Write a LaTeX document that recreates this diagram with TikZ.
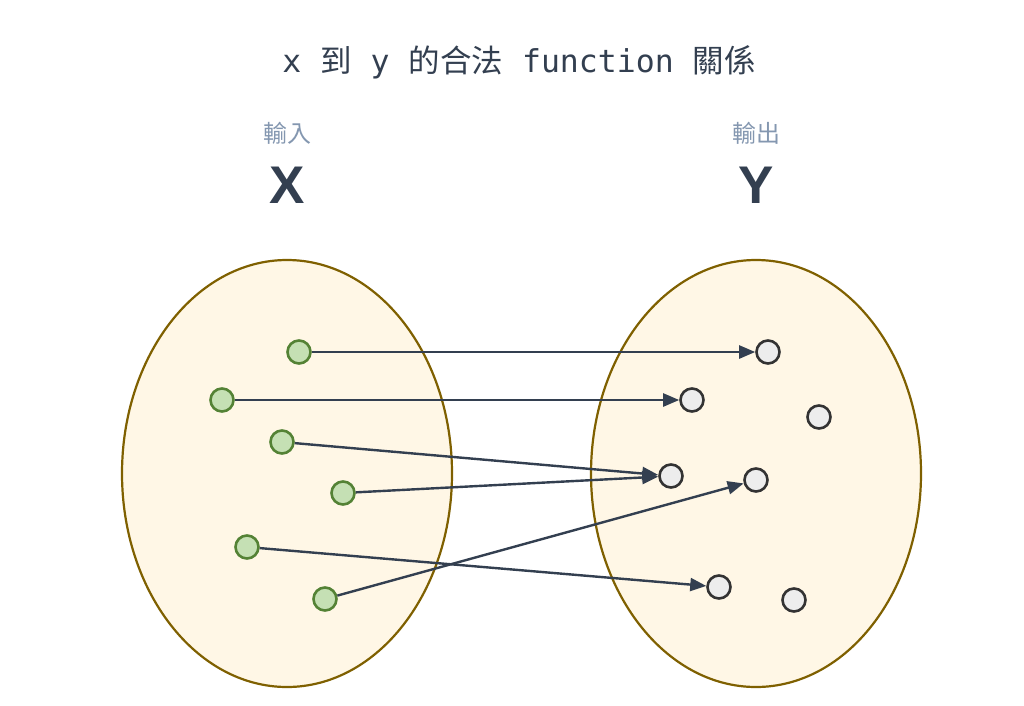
\documentclass[tikz,border=0pt]{standalone}
\usepackage{fontspec}
\setmainfont{Noto Sans}
\newfontfamily\cjk{Noto Sans CJK TC}
\newfontfamily\mono{DejaVu Sans Mono}
\newfontfamily\heavy{Liberation Sans}
\usepackage{tikz}
\usetikzlibrary{shapes.geometric,arrows.meta}
\definecolor{set-fill}{HTML}{FFF7E6}
\definecolor{set-line}{HTML}{7F6000}
\definecolor{in-fill}{HTML}{C5E0B4}
\definecolor{in-line}{HTML}{548235}
\definecolor{out-fill}{HTML}{EDEDED}
\definecolor{out-line}{HTML}{333333}
\definecolor{slate}{HTML}{333F50}
\definecolor{label-grey}{HTML}{8497B0}

\begin{document}
\begin{tikzpicture}[x=1pt,y=-1pt,
    set/.style={draw=set-line,fill=set-fill,ellipse,line width=2.2pt,minimum width=330pt,minimum height=427pt},
    indot/.style={draw=in-line,fill=in-fill,circle,line width=2.6pt,minimum size=23pt,inner sep=0pt},
    outdot/.style={draw=out-line,fill=out-fill,circle,line width=2.6pt,minimum size=23pt,inner sep=0pt},
    maps/.style={draw=slate,line width=2.4pt,-{Triangle[length=16pt,width=13pt]}}]
    \useasboundingbox (0,0) rectangle (1024,705);

    \node[text=slate,font=\fontsize{31.5}{36}\selectfont] (title) at (519,62)
        {{\mono x }{\cjk 到}{\mono\ y\ }{\cjk 的合法}{\mono\ function\ }{\cjk 關係}};
    \node[text=label-grey,font=\cjk\fontsize{24}{28}\selectfont] (inlabel) at (287,133) {輸入};
    \node[text=label-grey,font=\cjk\fontsize{24}{28}\selectfont] (outlabel) at (756,133) {輸出};
    \node[text=slate,font=\heavy\bfseries\fontsize{53}{60}\selectfont,anchor=base] (X) at (287,203) {X};
    \node[text=slate,font=\heavy\bfseries\fontsize{53}{60}\selectfont,anchor=base] (Y) at (756,203) {Y};

    \node[set] (setX) at (287,473.5) {};
    \node[set] (setY) at (756,473.5) {};

    \node[indot] (x1) at (299,352) {};
    \node[indot] (x2) at (222,400) {};
    \node[indot] (x3) at (282,442) {};
    \node[indot] (x4) at (343,493) {};
    \node[indot] (x5) at (247,547) {};
    \node[indot] (x6) at (325,599) {};

    \node[outdot] (y1) at (768,352) {};
    \node[outdot] (y2) at (692,400) {};
    \node[outdot] (y3) at (819,417) {};
    \node[outdot] (y4) at (671,476) {};
    \node[outdot] (y5) at (756,480) {};
    \node[outdot] (y6) at (719,587) {};
    \node[outdot] (y7) at (794,600) {};

    \draw[maps] (x1) -- (y1);
    \draw[maps] (x2) -- (y2);
    \draw[maps] (x3) -- (y4);
    \draw[maps] (x4) -- (y4);
    \draw[maps] (x5) -- (y6);
    \draw[maps] (x6) -- (y5);
\end{tikzpicture}
\end{document}
